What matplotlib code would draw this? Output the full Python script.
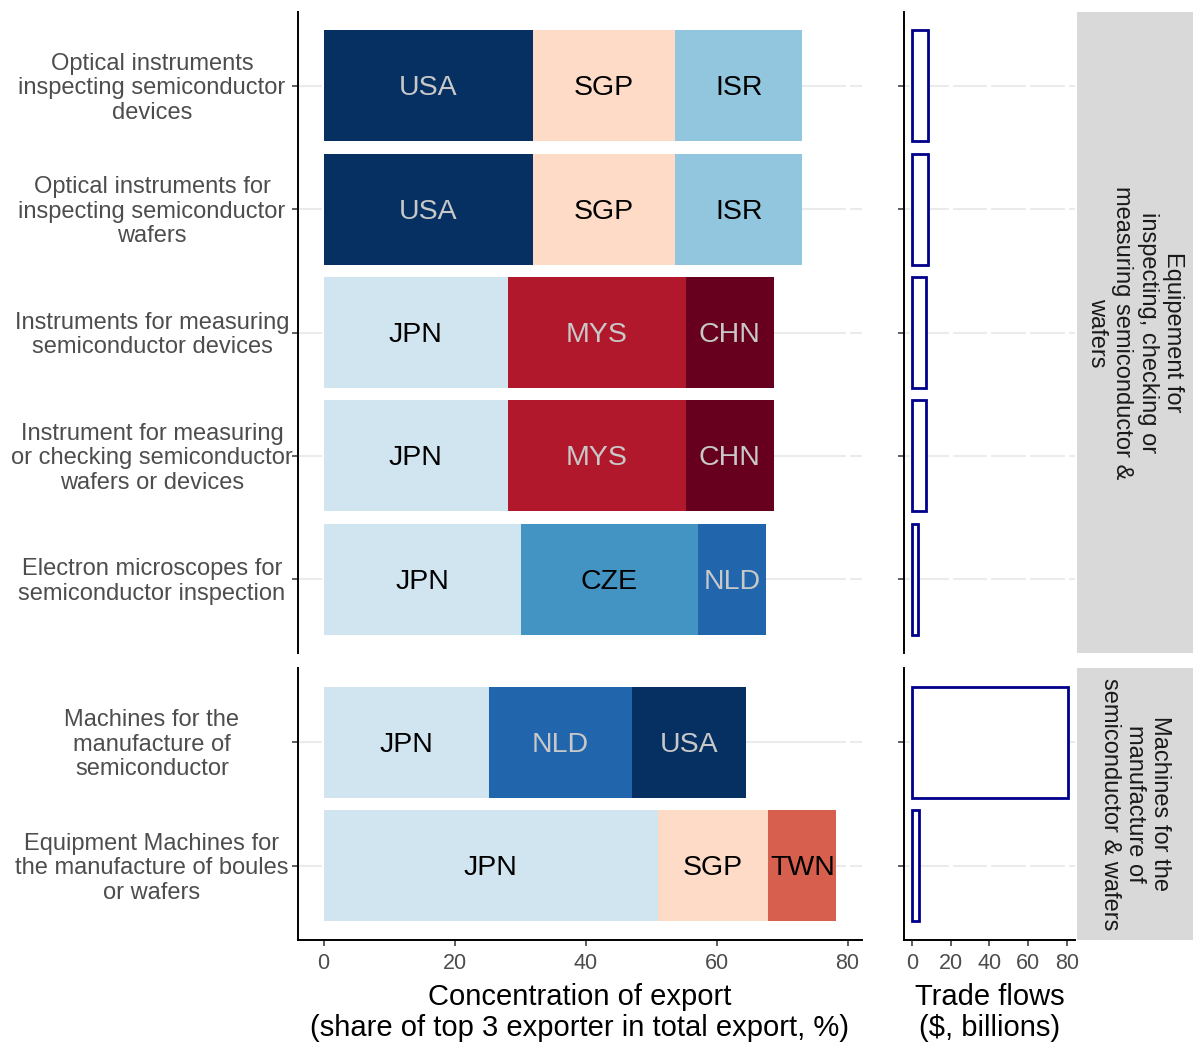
import matplotlib.pyplot as plt
from matplotlib.patches import Rectangle
from matplotlib.transforms import blended_transform_factory, ScaledTranslation

plt.rcParams['font.family'] = ['Liberation Sans', 'DejaVu Sans']

# products, top to bottom
products = [
    "Optical instruments\ninspecting semiconductor\ndevices",
    "Optical instruments for\ninspecting semiconductor\nwafers",
    "Instruments for measuring\nsemiconductor devices",
    "Instrument for measuring\nor checking semiconductor\nwafers or devices",
    "Electron microscopes for\nsemiconductor inspection",
    "Machines for the\nmanufacture of\nsemiconductor",
    "Equipment Machines for\nthe manufacture of boules\nor wafers",
]
groups = [0, 0, 0, 0, 0, 1, 1]
group_labels = [
    "Equipement for\ninspecting, checking or\nmeasuring semiconductor &\nwafers",
    "Machines for the\nmanufacture of\nsemiconductor & wafers",
]

# top 3 exporters and their share of total export (%)
exporters = [
    ["USA", "SGP", "ISR"],
    ["USA", "SGP", "ISR"],
    ["JPN", "MYS", "CHN"],
    ["JPN", "MYS", "CHN"],
    ["JPN", "CZE", "NLD"],
    ["JPN", "NLD", "USA"],
    ["JPN", "SGP", "TWN"],
]
shares = [
    [31.9, 21.8, 19.4],
    [31.9, 21.8, 19.4],
    [28.1, 27.2, 13.4],
    [28.1, 27.2, 13.4],
    [30.1, 27.0, 10.5],
    [25.3, 21.8, 17.4],
    [51.0, 16.9, 10.4],
]
# trade flows, $ billions
trade = [8.3, 8.3, 7.4, 7.4, 3.2, 80.7, 3.7]

colors = {
    "USA": "#053061", "SGP": "#fddbc7", "ISR": "#92c5de", "JPN": "#d1e5f0",
    "MYS": "#b2182b", "CHN": "#67001f", "CZE": "#4393c3", "NLD": "#2166ac",
    "TWN": "#d6604d",
}
dark = {"USA", "MYS", "CHN", "NLD"}

W, H = 1193, 1043
fig = plt.figure(figsize=(W / 100, H / 100), dpi=100)


def add_ax(x0, y0, x1, y1):
    return fig.add_axes([x0 / W, 1 - y1 / H, (x1 - x0) / W, (y1 - y0) / H])


panels = [(12, 653), (668, 940)]
for g, (ytop, ybot) in enumerate(panels):
    idx = [i for i in range(len(products)) if groups[i] == g]
    n = len(idx)
    pos = list(range(1, n + 1))

    axl = add_ax(298, ytop, 862, ybot)
    axr = add_ax(904, ytop, 1075, ybot)

    for ax, xl, xt in [(axl, (-3.9, 82.2), [0, 20, 40, 60, 80]),
                       (axr, (-4.1, 84.3), [0, 20, 40, 60, 80])]:
        ax.set_xlim(*xl)
        ax.set_ylim(n + 0.6, 0.4)
        for p in pos:
            ax.axhline(p, color="#ebebeb", lw=1.5, zorder=0)
        for t in xt:
            ax.axvline(t, color="white", lw=3, zorder=0.5)
        ax.set_yticks(pos)
        ax.set_yticklabels([])
        ax.set_xticks(xt)
        for s in ["top", "right"]:
            ax.spines[s].set_visible(False)
        ax.spines["left"].set_linewidth(1.4)
        ax.tick_params(axis="both", length=4.5, width=1.1, color="#333333",
                       labelsize=15.5, labelcolor="#4d4d4d", pad=5)
        if g == 0:
            ax.spines["bottom"].set_visible(False)
            ax.tick_params(axis="x", bottom=False, labelbottom=False)
        else:
            ax.spines["bottom"].set_linewidth(1.4)

    # category labels, centred in the axis-text area like ggplot
    tr = blended_transform_factory(fig.transFigure, axl.transData)
    tr = tr + ScaledTranslation(0, -2.5 / 100, fig.dpi_scale_trans)
    for p, i in zip(pos, idx):
        fig.text(152 / W, p, products[i], transform=tr, ha="center", va="center",
                 multialignment="center", fontsize=17, color="#4d4d4d",
                 linespacing=1.16)

    for p, i in zip(pos, idx):
        left = 0
        for c, v in zip(exporters[i], shares[i]):
            axl.barh(p, v, left=left, height=0.9, color=colors[c], zorder=2)
            axl.text(left + v / 2, p + 0.02, c, ha="center", va="center", fontsize=20.5,
                     color="#c8c8c8" if c in dark else "black", zorder=3)
            left += v
        axr.barh(p, trade[i], height=0.9, facecolor="white", edgecolor="#00008b",
                 linewidth=2, zorder=2)

    if g == 1:
        axl.set_xlabel("Concentration of export\n(share of top 3 exporter in total export, %)",
                       fontsize=21, labelpad=6, linespacing=1.15)
        axr.set_xlabel("Trade flows\n(\\$, billions)", fontsize=21, labelpad=6,
                       linespacing=1.15)

    # facet strip
    axs = add_ax(1077, ytop, 1193, ybot)
    axs.set_axis_off()
    axs.add_patch(Rectangle((0, 0), 1, 1, color="#d9d9d9", transform=axs.transAxes))
    axs.text(0.5, 0.5, group_labels[g], rotation=-90, ha="center", va="center",
             multialignment="center", fontsize=17, color="#1a1a1a",
             linespacing=1.18, transform=axs.transAxes)

fig.savefig("out.png", dpi=100)
